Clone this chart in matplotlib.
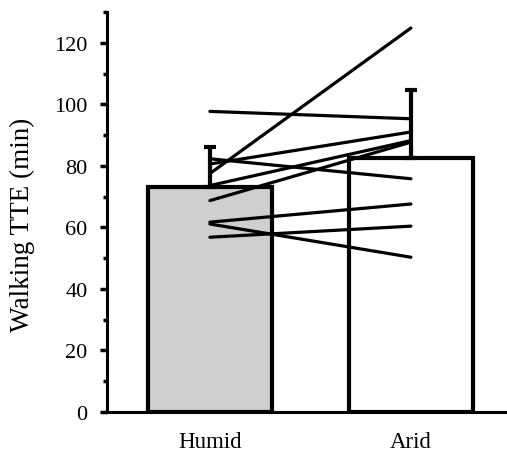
import matplotlib.pyplot as plt
import numpy as np

plt.rcParams['font.family'] = ['Liberation Serif', 'DejaVu Serif']

conditions = ['Humid', 'Arid']
bar_means = [73.2, 82.5]
bar_sd = [12.8, 22.0]
bar_colors = ['#d0cfd0', 'white']

# individual participants (humid, arid)
humid = [77.5, 97.7, 82.3, 80.6, 73.6, 68.7, 61.7, 61.1, 56.8]
arid = [124.8, 95.3, 75.8, 91.0, 88.2, 87.7, 67.6, 50.3, 60.4]

fig = plt.figure(figsize=(5.07, 4.52), dpi=100)
ax = fig.add_axes([107 / 507, 39 / 452, 400 / 507, 400 / 452])

x = np.arange(len(conditions))
ax.bar(x, bar_means, width=0.617, color=bar_colors, edgecolor='black',
       linewidth=3, zorder=2)
ax.errorbar(x, bar_means, yerr=[np.zeros(2), bar_sd], fmt='none',
            ecolor='black', elinewidth=3, capsize=4, capthick=3, zorder=3)

for h, a in zip(humid, arid):
    ax.plot(x, [h, a], color='black', linewidth=2.3,
            solid_capstyle='round', zorder=4)

ax.set_xlim(-0.512, 1.478)
ax.set_ylim(0, 130)
ax.set_xticks(x)
ax.set_xticklabels(conditions, fontsize=16.5)
ax.tick_params(axis='x', length=0, pad=14)
ax.set_yticks(np.arange(0, 121, 20))
ax.set_yticks(np.arange(10, 131, 20), minor=True)
ax.tick_params(axis='y', which='major', length=5, width=2.5, labelsize=16,
               direction='out', pad=9)
ax.tick_params(axis='y', which='minor', length=3, width=2.5, direction='out')
ax.set_ylabel('Walking TTE (min)', fontsize=19.5)
ax.yaxis.set_label_coords(-0.18, 0.47)

ax.spines['top'].set_visible(False)
ax.spines['right'].set_visible(False)
ax.spines['left'].set_linewidth(2.2)
ax.spines['bottom'].set_linewidth(2.2)

fig.savefig('out.png', dpi=100)
